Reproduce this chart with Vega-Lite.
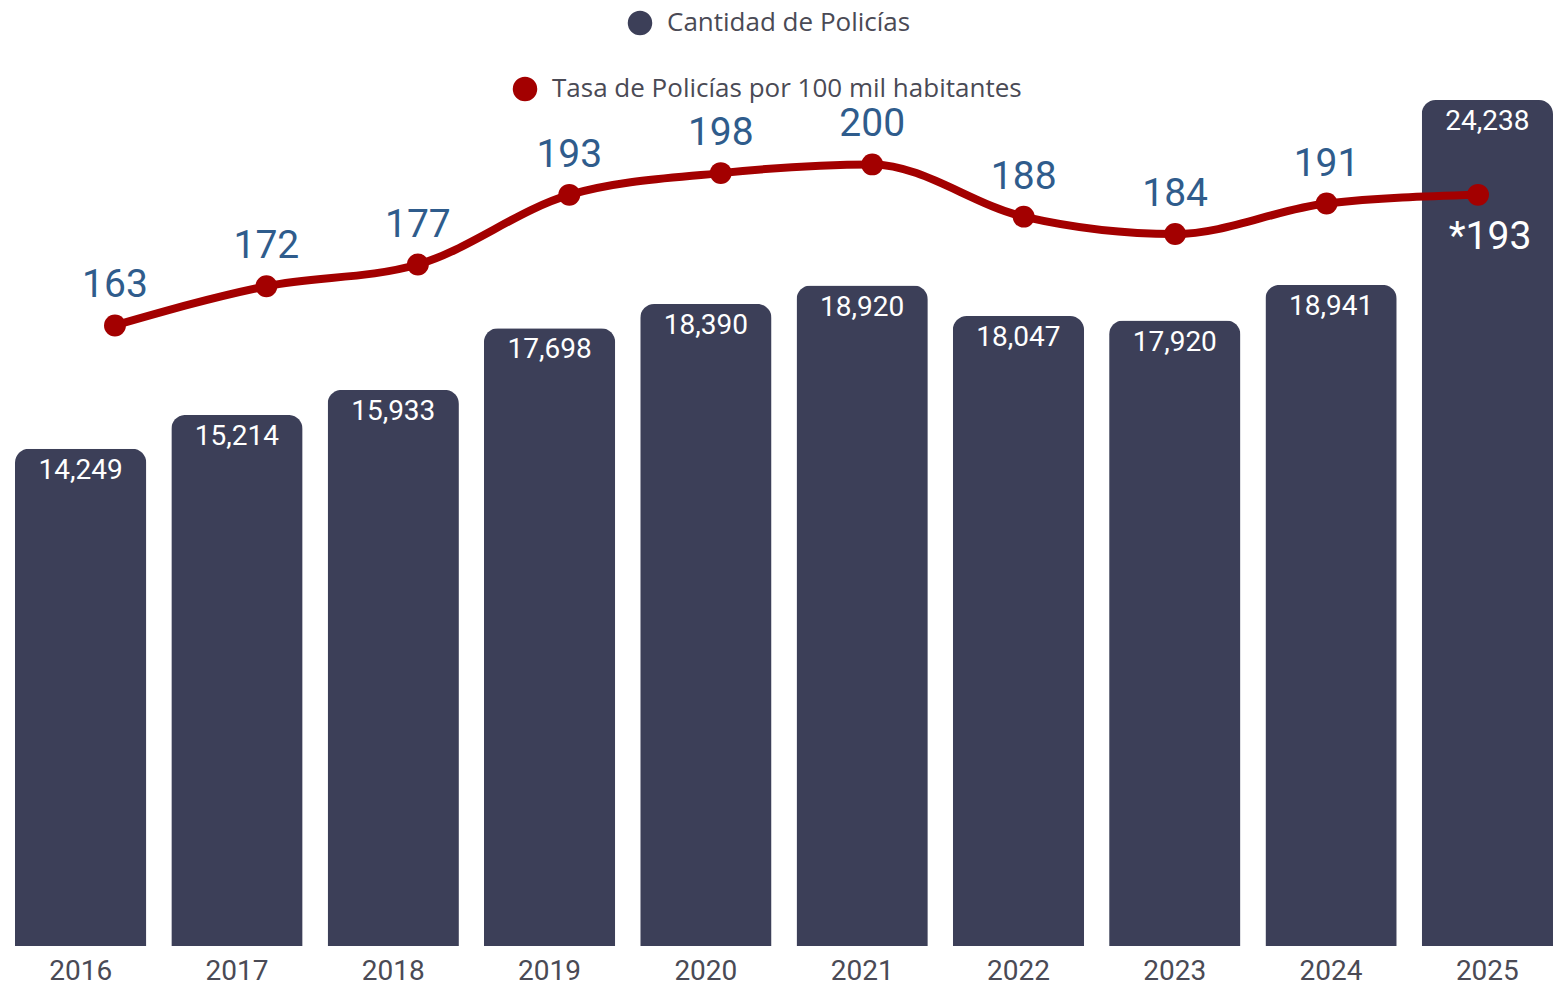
{
  "$schema": "https://vega.github.io/schema/vega-lite/v6.json",
  "width": 1538,
  "height": 846,
  "autosize": {"type": "none"},
  "padding": {"left": 15, "top": 100, "right": 0, "bottom": 42},
  "background": "white",
  "config": {
    "view": {"stroke": null},
    "font": "Roboto",
    "legend": {
      "labelFontSize": 26,
      "labelColor": "#4a4a55",
      "labelFont": "Open Sans",
      "labelLimit": 1000,
      "symbolSize": 600,
      "symbolType": "circle",
      "symbolStrokeWidth": 0,
      "labelOffset": 14,
      "padding": 0
    }
  },
  "data": {
    "values": [
      {"year": 2016, "policias": 14249, "tasa": 163},
      {"year": 2017, "policias": 15214, "tasa": 172},
      {"year": 2018, "policias": 15933, "tasa": 177},
      {"year": 2019, "policias": 17698, "tasa": 193},
      {"year": 2020, "policias": 18390, "tasa": 198},
      {"year": 2021, "policias": 18920, "tasa": 200},
      {"year": 2022, "policias": 18047, "tasa": 188},
      {"year": 2023, "policias": 17920, "tasa": 184},
      {"year": 2024, "policias": 18941, "tasa": 191},
      {"year": 2025, "policias": 24238, "tasa": 193}
    ]
  },
  "layer": [
    {
      "encoding": {
        "x": {
          "field": "year",
          "type": "nominal",
          "scale": {"paddingInner": 0.16, "paddingOuter": 0},
          "axis": {
            "title": null,
            "domain": false,
            "ticks": false,
            "labelFontSize": 28,
            "labelColor": "#4a4a55",
            "labelAngle": 0,
            "labelPadding": 11
          }
        },
        "y": {
          "field": "policias",
          "type": "quantitative",
          "scale": {"domain": [0, 24238], "nice": false, "zero": true},
          "axis": null
        }
      },
      "layer": [
        {
          "mark": {"type": "bar", "cornerRadiusTopLeft": 14, "cornerRadiusTopRight": 14, "color": "#3c3f58"},
          "encoding": {
            "color": {
              "datum": "Cantidad de Policías",
              "scale": {"range": ["#3c3f58"]},
              "legend": {"orient": "none", "legendX": 612, "legendY": -90, "title": null}
            }
          }
        },
        {
          "mark": {"type": "text", "color": "white", "fontSize": 28, "baseline": "middle", "dy": 22},
          "encoding": {"text": {"field": "policias", "type": "quantitative", "format": ","}}
        }
      ]
    },
    {
      "encoding": {
        "x": {
          "field": "year",
          "type": "quantitative",
          "scale": {"domain": [2015.34, 2025.495], "nice": false, "zero": false},
          "axis": null
        },
        "y": {
          "field": "tasa",
          "type": "quantitative",
          "scale": {"domain": [20.4, 214.8], "nice": false, "zero": false},
          "axis": null
        }
      },
      "layer": [
        {
          "mark": {"type": "line", "color": "#a30000", "strokeWidth": 8, "interpolate": "monotone"},
          "encoding": {}
        },
        {
          "mark": {"type": "point", "filled": true, "opacity": 1, "size": 480, "shape": "circle"},
          "encoding": {
            "color": {
              "datum": "Tasa de Policías por 100 mil habitantes",
              "scale": {"range": ["#a30000"]},
              "legend": {"orient": "none", "legendX": 497, "legendY": -24, "title": null}
            }
          }
        },
        {
          "transform": [{"filter": "datum.year < 2025"}],
          "mark": {"type": "text", "color": "#2f5c8c", "fontSize": 39, "baseline": "middle", "dy": -40},
          "encoding": {"text": {"field": "tasa", "type": "quantitative"}}
        },
        {
          "transform": [{"filter": "datum.year == 2025"}, {"calculate": "'*' + datum.tasa", "as": "lbl"}],
          "mark": {"type": "text", "color": "white", "fontSize": 39, "baseline": "middle", "dy": 42, "dx": 12},
          "encoding": {"text": {"field": "lbl", "type": "nominal"}}
        }
      ]
    }
  ],
  "resolve": {"scale": {"x": "independent", "y": "independent", "color": "independent"}}
}
